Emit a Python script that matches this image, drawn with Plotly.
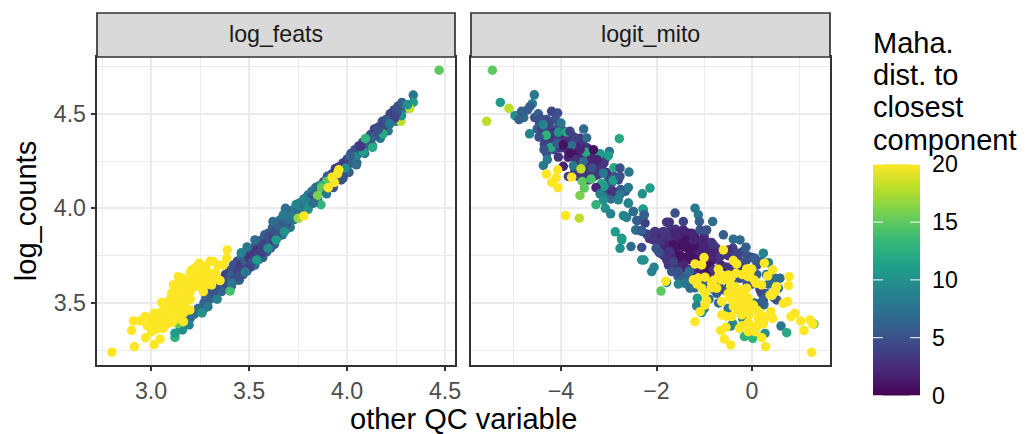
import plotly.graph_objects as go

# ---------- log_feats panel ----------
feats_edge_x = [3.36,3.40,3.44,3.48,3.52,3.56,3.60,3.64,3.68,3.72,3.76,3.80,
                3.84,3.88,3.92,3.96,4.00,4.04,4.08,4.12,4.16,4.20,4.24,4.28,
                3.34,3.39,3.43,3.47,3.51,3.55,3.59,3.63,3.67,3.71,3.75,3.79,3.83]
feats_edge_y = [3.62,3.67,3.72,3.76,3.79,3.83,3.87,3.91,3.95,3.99,4.03,4.07,
                4.11,4.14,4.18,4.22,4.26,4.31,4.35,4.39,4.43,4.47,4.52,4.56,
                3.56,3.59,3.62,3.65,3.69,3.73,3.77,3.81,3.86,3.90,3.95,3.99,4.03]
feats_edge_dist = [5,5,4,5,5,5,6,6,7,8,8,8,
                   7,5,4,4,5,5,5,5,5,5,5,6,
                   6,6,5,6,6,6,6,6,7,8,8,9,8]
feats_band_x = [3.30,3.34,3.38,3.42,3.46,3.50,3.54,3.58,3.62,3.66,
                3.70,3.74,3.78,3.82,3.86,3.90,3.94,3.98,4.02,4.06,
                4.10,4.14,4.18,4.22,4.26,
                3.33,3.37,3.41,3.45,3.49,3.53,3.57,3.61,3.65,3.69,
                3.73,3.77,3.81,3.85,3.89,3.93,3.97,4.01,4.05,4.09,
                4.13,4.17,4.21,4.25,
                3.31,3.36,3.43,3.46,3.49,3.51,3.53,3.56,3.58,3.61,
                3.64,3.69,3.72,3.77,3.81,3.87,3.91,3.95,3.99,4.04,
                4.07,4.11,4.15,4.19,4.23,
                3.20,3.22,3.25,3.27,3.18,3.15]
feats_band_y = [3.56,3.61,3.65,3.70,3.74,3.78,3.82,3.86,3.90,3.94,
                3.98,4.02,4.05,4.09,4.12,4.17,4.21,4.24,4.29,4.33,
                4.37,4.42,4.46,4.50,4.54,
                3.54,3.58,3.59,3.62,3.67,3.70,3.74,3.79,3.85,3.89,
                3.94,3.98,4.02,4.05,4.10,4.11,4.15,4.19,4.24,4.29,
                4.33,4.37,4.41,4.46,
                3.54,3.60,3.66,3.70,3.73,3.72,3.76,3.78,3.80,3.83,
                3.86,3.92,3.96,4.00,4.04,4.10,4.14,4.18,4.22,4.27,
                4.31,4.35,4.39,4.44,4.48,
                3.42,3.44,3.47,3.47,3.39,3.36]
feats_band_dist = [5,4,4,5,6,5,5,6,6,7,
                   8,9,9,8,7,6,4,4,5,4,
                   5,4,5,4,5,
                   7,6,5,6,6,7,6,6,8,8,
                   8,9,10,8,6,5,5,6,7,7,
                   8,8,8,8,
                   5,4,3,3,3,2,3,2,3,3,
                   4,5,6,7,5,4,3,2,2,3,
                   3,3,3,3,3,
                   7,7,6,7,8,9]
feats_x = [3.24,3.27,3.30,3.32,3.28,3.35,3.36,3.38,3.40,3.41,
           3.42,3.44,3.45,3.47,3.48,3.50,3.50,3.52,3.52,3.54,
           3.55,3.57,3.57,3.59,3.60,3.62,3.63,3.65,3.65,3.67,
           3.68,3.70,3.71,3.73,3.75,3.76,3.78,3.80,3.82,3.84,
           3.86,3.88,3.90,3.92,3.94,3.96,3.98,4.00,4.01,4.03,
           4.05,4.06,4.08,4.10,4.12,4.14,4.16,4.18,4.20,4.22,
           4.24,4.26,4.27,4.29,4.30,
           3.122,3.122,3.16,3.194,3.138,3.26,3.29,3.337,3.403,3.413,
           3.48,3.54,3.46,3.49,3.53,3.597,3.638,3.68,3.622,3.68,
           4.338,4.338,4.32,4.275,4.309,4.278,4.253,4.244,4.218,4.184,
           4.159,4.094,4.13,4.083,4.043,4.015,4.048,4.07,3.992,3.98,
           3.895,3.87,3.87,3.85,3.896,3.794,3.867,3.802,3.751,3.686,
           3.675,3.828]
feats_y = [3.47,3.50,3.52,3.55,3.53,3.59,3.56,3.61,3.60,3.65,
           3.62,3.67,3.64,3.69,3.72,3.69,3.74,3.75,3.72,3.78,
           3.76,3.80,3.77,3.82,3.85,3.85,3.88,3.88,3.91,3.92,
           3.90,3.94,3.96,3.98,3.99,4.01,4.02,4.03,4.06,4.07,
           4.09,4.10,4.14,4.13,4.17,4.19,4.19,4.22,4.25,4.24,
           4.28,4.30,4.32,4.33,4.36,4.38,4.40,4.43,4.45,4.47,
           4.50,4.51,4.53,4.55,4.53,
           3.318,3.34,3.357,3.384,3.39,3.447,3.48,3.52,3.563,3.606,
           3.664,3.727,3.765,3.796,3.833,3.79,3.833,3.876,3.93,3.97,
           4.599,4.56,4.529,4.46,4.548,4.49,4.504,4.477,4.447,4.394,
           4.416,4.368,4.322,4.297,4.271,4.274,4.23,4.327,4.213,4.16,
           4.142,4.119,4.107,4.068,4.077,4.036,4.019,3.996,3.948,4.0,
           3.966,4.027]
feats_dist = [7,6,6,5,6,5,6,5,5,6,
              4,4,5,4,6,4,3,3,5,3,
              4,4,4,4,5,4,5,5,6,6,
              6,7,8,8,7,9,8,7,5,6,
              6,5,4,4,3,3,5,5,4,6,
              6,5,4,6,5,6,5,4,5,6,
              4,5,5,6,7,
              13,11,10,9,15,10,8,9,14,8,
              8,11,9,8,7,10,11,10,7,8,
              8,11,18,18,10,10,5,4,8,12,
              5,13,12,11,9,6,7,3,10,5,
              15,13,15,16,8,9,13,10,17,7,
              8,7]
feats_high_x = [2.80,2.915,3.015,3.046,2.972,2.901,2.91,2.944,2.969,3.017,
                3.003,3.037,3.063,3.012,3.037,3.071,3.088,3.054,3.114,3.148,
                3.19,3.173,3.165,3.105,3.114,3.139,3.207,3.246,3.318,3.369,
                3.389,3.386,3.352,3.309,3.267,3.224,3.182,3.207,3.258,3.292,
                3.241,3.275,3.224,3.165,3.131,3.122,3.071,3.029,3.088,3.054,
                3.156,3.105,3.198,3.258,3.30,3.224,3.19,3.25,3.29,3.16,
                3.13,3.10,3.08,3.05,3.03,
                3.21,3.23,3.25,3.27,3.29,3.31,3.22,3.24,3.26,3.28,
                3.20,3.18,3.17,3.15,3.13,3.12,3.10,3.09,3.07,3.06,
                3.04,3.02,3.00,3.11,3.14,3.16,3.19,3.12,3.15,3.09,
                3.20,3.17,3.28,3.33,3.34,3.30,3.27,3.23,3.15,3.12,
                3.18,3.09,3.20,3.18,3.14,3.12,3.08,3.05,3.00,3.02,
                2.98,3.16,3.13,3.33,
                3.958,3.952,3.924,3.935,3.904,3.78]
feats_high_y = [3.24,3.269,3.279,3.309,3.316,3.355,3.405,3.405,3.428,3.445,
                3.348,3.366,3.366,3.392,3.41,3.428,3.463,3.503,3.489,3.48,
                3.516,3.454,3.401,3.551,3.595,3.639,3.674,3.71,3.719,3.701,
                3.78,3.736,3.618,3.595,3.56,3.586,3.56,3.622,3.639,3.657,
                3.674,3.613,3.657,3.525,3.516,3.445,3.463,3.428,3.392,3.454,
                3.463,3.463,3.463,3.692,3.622,3.622,3.595,3.60,3.63,3.59,
                3.53,3.49,3.44,3.40,3.38,
                3.60,3.63,3.65,3.62,3.60,3.63,3.65,3.59,3.58,3.60,
                3.56,3.54,3.51,3.50,3.48,3.51,3.52,3.45,3.42,3.43,
                3.39,3.40,3.37,3.40,3.42,3.44,3.53,3.47,3.49,3.50,
                3.66,3.62,3.68,3.66,3.70,3.72,3.69,3.69,3.56,3.55,
                3.60,3.51,3.52,3.47,3.46,3.41,3.47,3.43,3.42,3.36,
                3.38,3.63,3.60,3.63,
                4.204,4.183,4.165,4.137,4.109,3.96]
feats_top_x = [4.47]
feats_top_y = [4.73]
feats_top_dist = [15]

# ---------- logit_mito panel ----------
mito_dense_x = [-4.9,-4.78,-4.7,-4.55,-4.45,-4.5,-4.3,-4.25,-4.12,-4.18,
                -4.05,-3.95,-3.75,-3.6,-3.55,-3.7,-3.8,-3.9,-3.65,-3.75,
                -3.85,-3.45,-3.4,-3.3,-3.55,-3.5,-3.65,-3.2,-3.15,-3.05,
                -4.25,-4.15,-4.3,-3.72,-3.65,-3.45,-3.3,-3.25,-3.0,-2.9,
                -2.95,-2.8,-3.05,-2.95,-2.85,-2.75,-2.65,-3.1,-2.95,
                -2.15,-2.0,-1.95,-1.9,-1.75,-1.7,-1.6,-1.55,-1.5,-1.42,
                -1.35,-1.3,-1.2,-1.15,-1.0,-0.95,-0.85,-0.75,
                -1.95,-1.85,-1.75,-1.65,-1.55,-1.45,-1.35,-1.25,-1.15,-1.05,
                -0.95,-0.85,
                -1.85,-1.7,-1.6,-1.5,-1.4,-1.3,-1.2,-1.1,-1.0,-0.9,
                -0.8,-0.7,-0.6,-0.5,-0.4,-0.3,-0.2,-0.1,0.0,0.1,0.2,
                -1.75,-1.6,-1.5,-1.35,-1.25,-1.1,-1.0,-0.85,-0.75,-0.65,
                -0.55,-0.45,-0.2,-0.3,
                -1.55,-1.45,-1.35,-1.2,-1.1,-0.95,-0.8,-0.7,-0.5,-0.4,
                -0.25,-0.1,0.0,0.1,0.2,0.3,0.45,0.35,0.4,0.3,
                0.1,-0.1,0.05,0.25,
                -0.9,-1.0,-0.7,-0.5,-0.2,-0.4,0.05,-0.1]
mito_dense_y = [4.49,4.48,4.52,4.48,4.45,4.42,4.47,4.45,4.47,4.42,
                4.43,4.41,4.38,4.37,4.34,4.33,4.35,4.32,4.3,4.28,
                4.27,4.32,4.3,4.28,4.31,4.21,4.26,4.26,4.25,4.27,
                4.33,4.31,4.29,4.19,4.17,4.17,4.21,4.18,4.16,4.17,
                4.13,4.15,4.1,4.08,4.07,4.1,4.09,4.06,4.05,
                3.84,3.84,3.87,3.85,3.84,3.89,3.89,3.83,3.87,3.86,
                3.87,3.84,3.86,3.83,3.85,3.82,3.82,3.79,
                3.8,3.79,3.8,3.78,3.8,3.82,3.79,3.81,3.8,3.78,
                3.78,3.78,
                3.75,3.75,3.74,3.72,3.74,3.73,3.75,3.73,3.72,3.72,
                3.73,3.76,3.76,3.75,3.79,3.74,3.77,3.75,3.74,3.72,3.72,
                3.7,3.69,3.68,3.68,3.66,3.68,3.66,3.65,3.67,3.7,
                3.69,3.69,3.7,3.67,
                3.64,3.62,3.62,3.58,3.6,3.6,3.57,3.6,3.58,3.6,
                3.63,3.6,3.6,3.6,3.55,3.55,3.53,3.6,3.65,3.65,
                3.65,3.52,3.5,3.49,
                3.52,3.47,3.5,3.47,3.42,3.39,3.36,3.33]
mito_dense_dist = [6,7,6,5,5,6,5,4,5,6,
                   5,5,3,3,3,2,4,4,1,1,
                   2,3,2,3,2,3,2,3,4,5,
                   6,5,5,4,4,3,3,4,5,5,
                   5,4,4,3,4,6,6,8,7,
                   3,3,3,2,2,3,3,2,2,2,
                   2,2,2,2,3,2,3,3,
                   3,2,2,1,1,1,1,1,1,1,
                   2,2,
                   3,2,2,1,1,1,1,1,1,1,
                   2,2,3,3,4,4,5,5,5,6,6,
                   3,3,3,2,3,2,2,2,2,2,
                   3,3,4,4,
                   6,6,6,6,5,6,5,5,5,4,
                   5,5,5,5,5,6,7,7,8,8,
                   6,7,7,7,
                   7,8,7,8,9,10,11,12]
mito_x = [-2.066,-1.857,-1.647,-1.438,-1.263,-1.857,-1.647,-1.438,-1.228,-1.019,
          -0.81,-1.717,-1.508,-1.298,-1.089,-0.879,-0.67,-0.495,-0.321,-0.112,
          0.105,0.168,-0.879,-1.926,-1.926,-1.787,-1.438,-1.159,-0.949,0.168,
          -0.81,-1.368,-1.228,-1.054,-1.577,-1.787,-2.066,-1.403,-1.263,-0.74,
          -0.6,
          -3.7,-3.62,-3.55,-3.48,-3.4,-3.35,-3.28,-3.22,-3.4,-3.5,
          -3.6,-3.15,-3.1,-3.05,-3.3,-3.42,-4.4,-4.25,-4.15,-4.2,
          -4.1,-4.3,-4.35,-4.0,-3.9,-4.0,-3.85,
          -5.438,-4.559,-5.271,-5.09,-5.557,-4.6,-4.65,-4.964,-4.824,-4.88,
          -4.475,-4.196,-4.07,-4.419,-4.37,-4.0,-4.308,-4.657,-4.056,-3.882,
          -3.526,-2.779,-4.21,-4.461,-4.356,-4.091,-3.812,-3.686,-3.463,-3.777,
          -3.952,-3.477,-3.184,-2.988,-3.009,-4.287,-4.37,-4.056,-3.952,-3.742,
          -3.533,-3.812,-3.6,-3.32,-3.25,-3.358,-3.114,-2.89,-2.765,-2.576,
          -2.905,-2.765,-3.582,-3.847,-3.554,-3.372,-3.512,-3.603,-3.149,-3.1,
          -3.268,-3.184,-2.905,-2.59,-2.137,-2.297,-2.765,-2.8,-2.59,-3.114,
          -3.268,-3.072,-2.96,-2.283,-2.486,-2.255,-2.695,-2.625,-3.616,-2.395,
          -2.241,-2.863,-2.416,-2.311,-2.73,-1.788,-2.032,-2.207,-1.823,
          -1.905,-1.787,-1.543,-1.403,-1.298,-1.145,-1.159,-1.054,-0.447,-0.16,
          0.014,0.272,0.607,0.726,1.298,0.586,0.482,0.551,0.517,0.237,
          0.237,0.342,0.063,-0.126,-0.251,-0.391,-0.6,-0.824,-1.193,-1.124,
          -1.103,-1.612,-1.731,-1.438,-0.949,-1.089,-2.275,-2.261,-2.485,-2.659,
          -2.59,-2.415,-2.436,-2.31,-2.534,-2.31,-2.729,-2.764,-2.31,-2.261,
          -2.101,-2.052,-2.01,-1.961,-1.682,-1.647,-1.543,-1.312]
mito_y = [3.869,3.878,3.869,3.886,3.869,3.816,3.807,3.798,3.789,3.798,
          3.807,3.772,3.754,3.763,3.763,3.692,3.745,3.78,3.763,3.728,
          3.701,3.569,3.745,3.825,3.763,3.728,3.701,3.728,3.675,3.498,
          3.675,3.833,3.833,3.833,3.851,3.851,3.833,3.639,3.604,3.551,
          3.569,
          4.26,4.23,4.28,4.25,4.27,4.24,4.22,4.18,4.2,4.19,
          4.19,4.21,4.24,4.19,4.17,4.15,4.42,4.42,4.40,4.37,
          4.38,4.36,4.34,4.37,4.36,4.32,4.3,
          4.73,4.6,4.56,4.529,4.46,4.553,4.539,4.49,4.513,4.469,
          4.5,4.513,4.504,4.472,4.442,4.451,4.387,4.394,4.402,4.403,
          4.419,4.368,4.322,4.377,4.31,4.345,4.407,4.37,4.372,4.331,
          4.336,4.297,4.289,4.301,4.278,4.257,4.227,4.271,4.222,4.225,
          4.248,4.292,4.31,4.31,4.257,4.213,4.186,4.215,4.213,4.192,
          4.148,4.169,4.209,4.169,4.142,4.155,4.107,4.068,4.133,4.116,
          4.11,4.077,4.089,4.11,4.107,4.077,4.072,4.045,4.028,4.042,
          4.019,4.0,3.971,3.996,3.983,3.966,3.962,3.952,3.948,3.936,
          3.922,3.876,3.886,3.878,3.842,3.927,3.878,3.864,3.872,
          3.563,3.608,3.6,3.604,3.578,3.525,3.484,3.449,3.378,3.322,
          3.313,3.339,3.378,3.343,3.389,3.631,3.631,3.578,3.516,3.516,
          3.763,3.713,3.736,3.795,3.833,3.837,3.86,3.93,4.001,3.966,
          3.93,3.975,3.927,3.93,3.886,3.886,3.992,3.966,3.983,3.957,
          4.027,3.936,3.886,3.883,3.798,3.793,3.833,3.789,3.727,3.727,
          3.666,3.689,3.789,3.772,3.666,3.719,3.666,3.669]
mito_dist = [3,3,2,2,2,2,1,1,1,2,
             3,3,1,1,2,1,3,3,4,5,
             5,4,2,3,4,3,2,1,1,6,
             3,1,2,2,2,3,3,6,6,6,
             5,
             3,2,2,2,2,2,3,3,2,3,
             3,3,3,3,3,3,4,4,3,3,
             3,3,4,3,3,3,3,
             15,8,11,18,18,9,6,10,6,6,
             6,4,5,5,9,8,13,9,10,12,
             7,12,12,5,5,6,4,4,7,7,
             1,12,11,8,11,8,8,3,2,8,
             7,1,2,1,2,5,8,12,5,8,
             11,5,18,4,15,14,15,16,12,11,
             2,9,3,8,11,10,8,9,8,10,
             13,10,9,11,7,8,10,9,18,6,
             4,11,7,6,10,3,3,4,3,
             15,9,9,8,7,11,9,10,9,13,
             13,10,8,12,15,7,7,8,5,6,
             9,9,6,6,7,7,6,7,8,8,
             6,5,3,4,5,5,11,6,7,9,
             9,6,7,6,7,5,11,10,10,10,
             9,9,5,5,5,4,5,7]
mito_high_x = [-4.07,-4.307,-4.105,-4.196,-4.063,-3.777,-3.903,
               1.25,0.286,-0.447,-0.579,-0.656,-0.544,-1.193,-1.089,-0.984,-0.949,
               -0.635,-0.46,-0.635,-0.426,-0.216,-0.265,-0.077,0.063,0.203,0.237,
               0.307,0.433,0.391,0.133,-0.007,-0.112,-0.251,-0.391,-0.216,0.656,
               0.747,0.817,0.9,1.019,1.215,1.27,1.089,0.775,0.761,0.482,
               0.377,0.517,0.2,0.084,0.328,0.433,0.258,-0.007,-0.112,-0.077,
               -0.391,-0.321,-0.705,-0.335,-0.6,-0.495,-0.6,-1.005,-1.193,-1.054,
               -1.808,-1.228,-1.124,-0.984,-1.054,-0.984,-0.844,-0.74,-0.635,-0.46,
               -0.356,-0.112,-0.251,-0.356,-0.077,0.028,0.098,-0.147,0.028,-0.077,
               -0.8,-0.7,-0.55,-0.45,-0.5,-0.3,-0.15,-0.4,-0.25,-0.1,
               -0.3,-0.55,-0.05,0.15,0.25,-0.2,0.12,-0.85,-1.15,0.5,
               0.42,-0.05,0.05,-0.2]
mito_high_y = [4.204,4.181,4.16,4.137,4.109,4.165,3.962,
               3.239,3.269,3.278,3.309,3.354,3.371,3.401,3.454,3.489,3.512,
               3.507,3.53,3.437,3.428,3.437,3.366,3.396,3.348,3.317,3.389,
               3.428,3.419,3.454,3.419,3.481,3.498,3.481,3.481,3.533,3.498,
               3.507,3.428,3.445,3.405,3.41,3.389,3.354,3.639,3.592,3.56,
               3.542,3.586,3.595,3.604,3.643,3.675,3.71,3.68,3.68,3.639,
               3.724,3.706,3.678,3.657,3.639,3.648,3.78,3.74,3.706,3.701,
               3.615,3.622,3.631,3.636,3.578,3.551,3.604,3.578,3.622,3.622,
               3.586,3.578,3.569,3.542,3.525,3.489,3.463,3.454,3.375,3.348,
               3.62,3.64,3.63,3.59,3.55,3.55,3.54,3.51,3.5,3.47,
               3.46,3.43,3.44,3.45,3.41,3.38,3.38,3.58,3.6,3.58,
               3.54,3.65,3.62,3.65]

facet_labels = ["log_feats", "logit_mito"]
legend_title_lines = ["Maha.", "dist. to", "closest", "component"]
legend_ticks = [0, 5, 10, 15, 20]
x1_ticks = [3.0, 3.5, 4.0, 4.5]
x1_minor = [2.75, 3.25, 3.75, 4.25]
x2_ticks = [-4, -2, 0]
x2_minor = [-5, -3, -1, 1]
x2_labels = ["\u22124", "\u22122", "0"]
y_ticks = [3.5, 4.0, 4.5]
y_minor = [3.25, 3.75, 4.25, 4.75]

assert len(feats_edge_x) == len(feats_edge_y) == len(feats_edge_dist)
assert len(feats_band_x) == len(feats_band_y) == len(feats_band_dist)
assert len(feats_x) == len(feats_y) == len(feats_dist)
assert len(feats_high_x) == len(feats_high_y)
assert len(mito_dense_x) == len(mito_dense_y) == len(mito_dense_dist)
assert len(mito_x) == len(mito_y) == len(mito_dist)
assert len(mito_high_x) == len(mito_high_y)

W, H = 1025, 434
px = lambda v: v / W
py = lambda v: 1 - v / H
P1 = (97, 455)
P2 = (471, 830)
TOP, BOT = 57, 365
BAR_X0, BAR_X1, BAR_TOP, BAR_BOT = 873, 920, 164.3, 395.5

fig = go.Figure()


def marker(dist):
    return dict(size=9.5, color=dist, coloraxis="coloraxis", line=dict(width=0), opacity=1)


fig.add_trace(go.Scatter(
    x=feats_edge_x + feats_band_x + feats_x + feats_high_x + feats_top_x,
    y=feats_edge_y + feats_band_y + feats_y + feats_high_y + feats_top_y,
    mode="markers", xaxis="x", yaxis="y", showlegend=False,
    marker=marker(feats_edge_dist + feats_band_dist + feats_dist + [20] * len(feats_high_x) + feats_top_dist)))
fig.add_trace(go.Scatter(
    x=mito_dense_x + mito_x + mito_high_x, y=mito_dense_y + mito_y + mito_high_y,
    mode="markers", xaxis="x2", yaxis="y2", showlegend=False,
    marker=marker(mito_dense_dist + mito_dist + [20] * len(mito_high_x))))

# colour legend: a gradient on its own small axis, with ticks on both edges
legend_levels = [i / 5 for i in range(101)]
fig.add_trace(go.Heatmap(
    z=[[v] for v in legend_levels], x=[0], y=legend_levels,
    coloraxis="coloraxis", xaxis="x3", yaxis="y3", hoverinfo="skip"))
tick_x, tick_y = [], []
for t in legend_ticks:
    tick_x += [-0.5, -0.29, None, 0.29, 0.5, None]
    tick_y += [t, t, None, t, t, None]
fig.add_trace(go.Scatter(x=tick_x, y=tick_y, mode="lines", xaxis="x3", yaxis="y3",
                         line=dict(color="white", width=1), showlegend=False, hoverinfo="skip"))

GRID = "#EBEBEB"
BORDER = "#333333"
TICKFONT = dict(family="Liberation Sans", size=23.2, color="#4D4D4D")


def axis(domain, rng, ticks, minor, **kw):
    return dict(domain=domain, range=rng, tickmode="array", tickvals=ticks,
                showgrid=True, gridcolor=GRID, gridwidth=2, zeroline=False,
                minor=dict(tickvals=minor, showgrid=True, gridcolor=GRID, gridwidth=1, ticks=""),
                showline=True, linecolor=BORDER, linewidth=1.7, mirror=True,
                ticks="outside", ticklen=4.5, tickcolor=BORDER, tickwidth=1.7,
                tickfont=TICKFONT, **kw)


ydom = [py(BOT), py(TOP)]
yrange = [3.172, 4.80]
layout = dict(
    width=W, height=H, margin=dict(l=0, r=0, t=0, b=0, autoexpand=False),
    paper_bgcolor="white", plot_bgcolor="white",
    font=dict(family="Liberation Sans"),
    xaxis=axis([px(P1[0]), px(P1[1])], [2.724, 4.551], x1_ticks, x1_minor,
               ticktext=["3.0", "3.5", "4.0", "4.5"], anchor="y"),
    xaxis2=axis([px(P2[0]), px(P2[1])], [-5.885, 1.633], x2_ticks, x2_minor,
                ticktext=x2_labels, anchor="y2"),
    yaxis=axis(ydom, yrange, y_ticks, y_minor, ticktext=["3.5", "4.0", "4.5"], anchor="x",
               title=dict(text="log_counts", font=dict(size=29, color="black", family="Liberation Sans"),
                          standoff=9)),
    yaxis2=axis(ydom, yrange, y_ticks, y_minor, showticklabels=False, anchor="x2"),
    coloraxis=dict(colorscale="Viridis", cmin=0, cmax=20, showscale=False),
    xaxis3=dict(domain=[px(BAR_X0), px(BAR_X1)], anchor="y3", visible=False, fixedrange=True,
                range=[-0.5, 0.5]),
    yaxis3=dict(domain=[py(BAR_BOT), py(BAR_TOP)], anchor="x3", side="right", range=[0, 20],
                fixedrange=True, showgrid=False, zeroline=False, showline=False,
                tickmode="array", tickvals=legend_ticks, ticktext=[str(t) for t in legend_ticks],
                ticks="", ticklabelstandoff=11,
                tickfont=dict(family="Liberation Sans", size=23.2, color="black")),
)
fig.update_layout(**layout)
fig.update_layout(yaxis2_ticks="")

# facet strips
for (a, b), label in zip((P1, P2), facet_labels):
    fig.add_shape(type="rect", xref="paper", yref="paper", x0=px(a), x1=px(b), y0=py(57), y1=py(13),
                  fillcolor="#D9D9D9", line=dict(color=BORDER, width=1.7))
    fig.add_annotation(text=label, xref="paper", yref="paper", x=px((a + b) / 2), y=py(34),
                       showarrow=False, xanchor="center", yanchor="middle",
                       font=dict(family="Liberation Sans", size=23.2, color="#1A1A1A"))

# shared x title
fig.add_annotation(text="other QC variable", xref="paper", yref="paper", x=px(463), y=py(418.5),
                   showarrow=False, xanchor="center", yanchor="middle",
                   font=dict(family="Liberation Sans", size=29, color="black"))

# legend title, one annotation per line for ggplot's tight leading
for i, line in enumerate(legend_title_lines):
    fig.add_annotation(text=line, xref="paper", yref="paper", x=px(BAR_X0), y=py(42.5 + i * 32.4),
                       showarrow=False, xanchor="left", yanchor="middle", xshift=-2,
                       font=dict(family="Liberation Sans", size=29, color="black"))

fig.write_html("out.html", config={"displayModeBar": False},
               post_script="document.body.style.margin='0';document.documentElement.style.overflow='hidden';")
